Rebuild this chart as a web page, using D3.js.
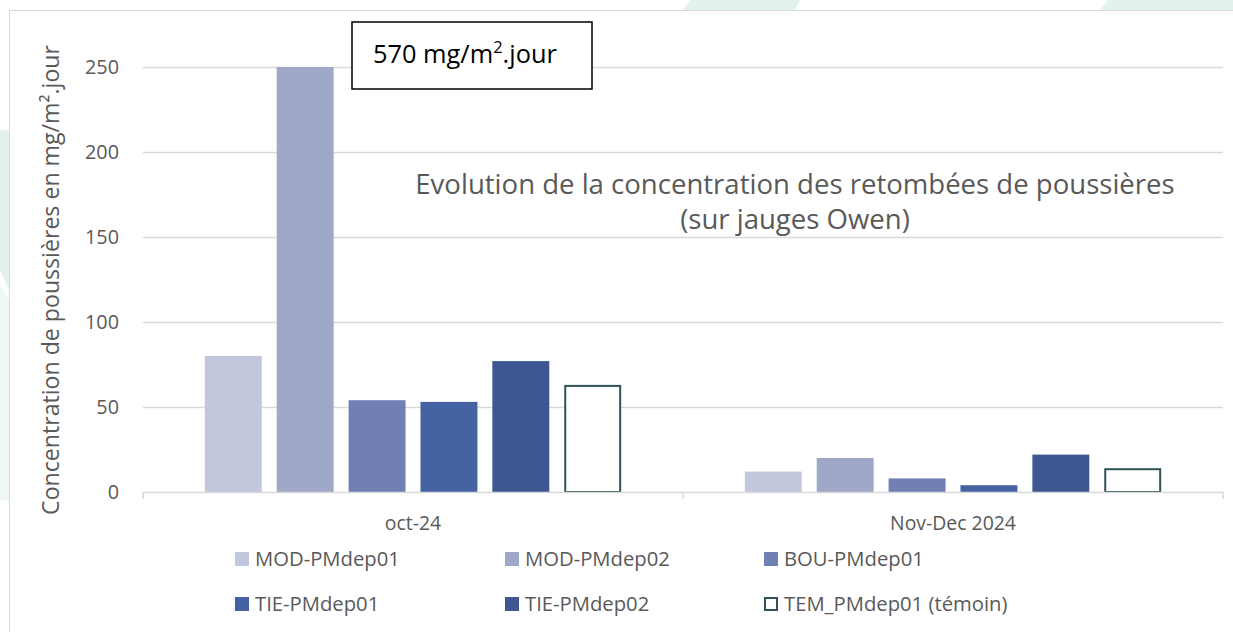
<!DOCTYPE html>
<html>
<head>
<meta charset="utf-8">
<script src="https://cdn.jsdelivr.net/npm/d3@7"></script>
<style>
  html, body { margin: 0; padding: 0; background: #fff; }
  svg { display: block; font-family: "Open Sans", sans-serif; }
</style>
</head>
<body>
<svg id="chart" width="1233" height="632"></svg>
<script>
const categories = ["oct-24", "Nov-Dec 2024"];
const seriesNames = ["MOD-PMdep01", "MOD-PMdep02", "BOU-PMdep01", "TIE-PMdep01", "TIE-PMdep02", "TEM_PMdep01 (témoin)"];
const seriesColors = ["#c1c7dc", "#a0a8ca", "#7080b5", "#4562a3", "#3e5791", "#ffffff"];
const seriesStroke = [null, null, null, null, null, "#2f5458"];
const MOD01 = [80, 12];
const MOD02 = [250, 20];
const BOU01 = [54, 8];
const TIE01 = [53, 4];
const TIE02 = [77, 22];
const TEM01 = [63, 14];
const yTicks = [0, 50, 100, 150, 200, 250];
const titleLines = ["Evolution de la concentration des retombées de poussières", "(sur jauges Owen)"];
const yTitle = "Concentration de poussières en mg/m².jour";
const annotationMain = "570 mg/m";
const annotationSup = "2";
const annotationTail = ".jour";

const seriesValues = [MOD01, MOD02, BOU01, TIE01, TIE02, TEM01];

const svg = d3.select("#chart");

// font size that makes a string reach a target width
function fitSize(str, target) {
  const t = svg.append("text").attr("font-size", 100).text(str);
  const w = t.node().getComputedTextLength();
  t.remove();
  return 100 * target / w;
}
const fsTitle = fitSize(titleLines[0], 760);
const fsTick = fitSize("250", 34);
const fsYTitle = fitSize(yTitle, 470);
const fsLegend = fitSize("MOD-PMdep01", 145);
const fsCat = fitSize("Nov-Dec 2024", 126);
const fsNote = fitSize("570 mg/m2.jour", 189);

// faint watermark shapes
const wm = svg.append("g").attr("fill", "#dcefe6").attr("opacity", 0.8);
wm.append("polygon").attr("points", "0,130 9,130 9,290 0,270");
wm.append("polygon").attr("points", "0,285 9,300 9,500 0,500").attr("opacity", 0.6);
wm.append("polygon").attr("points", "683,10 690,0 800,0 795,10");
wm.append("polygon").attr("points", "1100,10 1108,0 1233,0 1233,10");

// chart frame
svg.append("rect").attr("x", 9.5).attr("y", 10.5).attr("width", 1240).attr("height", 640)
  .attr("fill", "#fff").attr("stroke", "#d9d9d9").attr("stroke-width", 1);

const plotL = 143, plotR = 1223, plotT = 67, plotB = 492;

const y = d3.scaleLinear().domain([0, 250]).range([plotB, plotT]);
const x0 = d3.scaleBand().domain(categories).range([plotL, plotR]).padding(0);
const x1 = d3.scaleBand().domain(seriesNames).range([0, x0.bandwidth()])
  .paddingInner(0.208).paddingOuter(0.86);

// gridlines
svg.append("g").selectAll("line").data(yTicks.filter(d => d > 0)).join("line")
  .attr("x1", plotL).attr("x2", plotR)
  .attr("y1", d => y(d) + 0.5).attr("y2", d => y(d) + 0.5)
  .attr("stroke", "#d9d9d9").attr("stroke-width", 1.5);

// y tick labels
svg.append("g").selectAll("text").data(yTicks).join("text")
  .attr("x", 119).attr("y", d => y(d)).attr("dy", "0.35em")
  .attr("text-anchor", "end").attr("font-size", fsTick).attr("fill", "#595959")
  .text(d => d);

// bars
const groups = svg.append("g").selectAll("g").data(categories).join("g")
  .attr("transform", d => `translate(${x0(d)},0)`);
groups.selectAll("rect").data((c, ci) => seriesNames.map((s, si) => ({ s, si, v: seriesValues[si][ci] })))
  .join("rect")
  .attr("x", d => x1(d.s) + (seriesStroke[d.si] ? 1 : 0))
  .attr("y", d => y(d.v) + (seriesStroke[d.si] ? 1 : 0))
  .attr("width", d => x1.bandwidth() - (seriesStroke[d.si] ? 2 : 0))
  .attr("height", d => plotB - y(d.v) - (seriesStroke[d.si] ? 1 : 0))
  .attr("fill", d => seriesColors[d.si])
  .attr("stroke", d => seriesStroke[d.si] || "none")
  .attr("stroke-width", 2);

// x axis line and ticks
const xAxis = svg.append("g").attr("stroke", "#d9d9d9").attr("stroke-width", 1.5);
xAxis.append("line").attr("x1", plotL).attr("x2", plotR).attr("y1", plotB + 0.5).attr("y2", plotB + 0.5);
const tickXs = [plotL, x0(categories[1]), plotR];
xAxis.selectAll("line.t").data(tickXs).join("line").attr("class", "t")
  .attr("x1", d => d).attr("x2", d => d).attr("y1", plotB).attr("y2", plotB + 7);

// category labels
svg.append("g").selectAll("text").data(categories).join("text")
  .attr("x", d => x0(d) + x0.bandwidth() / 2).attr("y", 530)
  .attr("text-anchor", "middle").attr("font-size", fsCat).attr("fill", "#595959")
  .text(d => d);

// y axis title
svg.append("text")
  .attr("transform", "translate(59,280) rotate(-90)")
  .attr("text-anchor", "middle").attr("font-size", fsYTitle).attr("fill", "#595959")
  .text(yTitle);

// chart title (two lines)
svg.append("g").selectAll("text").data(titleLines).join("text")
  .attr("text-anchor", "middle").attr("font-size", fsTitle).attr("fill", "#595959")
  .attr("x", 795).attr("y", (d, i) => 194 + i * 35)
  .text(d => d);

// annotation box
svg.append("rect").attr("x", 352).attr("y", 22).attr("width", 240).attr("height", 67)
  .attr("fill", "#fff").attr("stroke", "#000").attr("stroke-width", 1.5);
const note = svg.append("text").attr("x", 373).attr("y", 63).attr("font-size", fsNote).attr("fill", "#000");
note.append("tspan").text(annotationMain);
note.append("tspan").attr("font-size", fsNote * 0.65).attr("dy", -fsNote * 0.4).text(annotationSup);
note.append("tspan").attr("dy", fsNote * 0.4).text(annotationTail);

// legend
const legendCols = [235, 505, 764];
const legendRows = [552, 597];
const leg = svg.append("g").selectAll("g").data(seriesNames).join("g")
  .attr("transform", (d, i) => `translate(${legendCols[i % 3]},${legendRows[Math.floor(i / 3)]})`);
leg.append("rect")
  .attr("x", (d, i) => seriesStroke[i] ? 1 : 0).attr("y", (d, i) => seriesStroke[i] ? 1 : 0)
  .attr("width", (d, i) => seriesStroke[i] ? 12 : 14).attr("height", (d, i) => seriesStroke[i] ? 12 : 14)
  .attr("fill", (d, i) => seriesColors[i])
  .attr("stroke", (d, i) => seriesStroke[i] || "none").attr("stroke-width", 2);
leg.append("text").attr("x", 20).attr("y", 7).attr("dy", "0.35em")
  .attr("font-size", fsLegend).attr("fill", "#595959").text(d => d);
</script>
</body>
</html>
